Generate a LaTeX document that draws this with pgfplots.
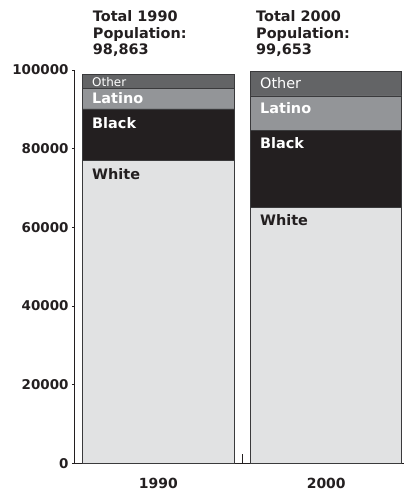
\documentclass[border=0pt]{standalone}
\usepackage{pgfplots}
\pgfplotsset{compat=1.18}
\usepackage{fontspec}
\setmainfont{DejaVu Sans}

\definecolor{cwhite}{HTML}{E1E2E3}
\definecolor{cblack}{HTML}{231F20}
\definecolor{clatino}{HTML}{939598}
\definecolor{cother}{HTML}{636466}
\definecolor{cline}{HTML}{3A3A3C}

\newcommand{\fs}[1]{\fontsize{#1}{#1}\selectfont}

\begin{document}
\begin{tikzpicture}[lbl/.style={anchor=base west, inner sep=0pt, font=\fs{14.5}\bfseries}]
    \begin{axis}[
        width=329bp, height=393.3bp, scale only axis,
        xmin=-0.496, xmax=1.463,
        ymin=0, ymax=100000,
        clip=false,
        ybar stacked, bar width=0.9,
        axis x line*=bottom, axis y line*=left,
        axis line style={-, draw=cblack, line width=1bp},
        ytick={0,20000,...,100000},
        scaled y ticks=false,
        yticklabel style={/pgf/number format/fixed, /pgf/number format/precision=0,
            /pgf/number format/1000 sep={}, /pgf/number format/assume math mode=true,
            font=\fs{13.5}\bfseries, text=cblack},
        xticklabel style={font=\fs{14}\bfseries, text=cblack, yshift=-8bp},
        tick align=outside, major tick length=3bp,
        tick style={draw=cblack, line width=0.8bp},
        xtick={0,1}, xticklabels={1990,2000},
        xtick style={draw=none},
        extra x ticks={0.5}, extra x tick labels={},
        extra x tick style={xtick style={draw=cblack, line width=0.8bp},
            tick align=inside, major tick length=9bp},
    ]
    % bottom to top: White, Black, Latino, Other
    \addplot[fill=cwhite, draw=cline, line width=0.7bp] coordinates {(0,76960) (1,65100)};
    \addplot[fill=cblack, draw=cline, line width=0.7bp] coordinates {(0,13140) (1,19500)};
    \addplot[fill=clatino, draw=cline, line width=0.7bp] coordinates {(0,5230) (1,8800)};
    \addplot[fill=cother, draw=cline, line width=0.7bp] coordinates {(0,3533) (1,6253)};

    % anchors for the labels (left edge of each bar, top of each segment)
    \coordinate (a1) at (axis cs:-0.45,98863);
    \coordinate (a2) at (axis cs:-0.45,95330);
    \coordinate (a3) at (axis cs:-0.45,90100);
    \coordinate (a4) at (axis cs:-0.45,76960);
    \coordinate (b1) at (axis cs:0.55,99653);
    \coordinate (b2) at (axis cs:0.55,93400);
    \coordinate (b3) at (axis cs:0.55,84600);
    \coordinate (b4) at (axis cs:0.55,65100);
    \coordinate (ta) at (axis cs:-0.45,100000);
    \coordinate (tb) at (axis cs:0.55,100000);
    \coordinate (sw) at (rel axis cs:0,0);
    \end{axis}

    % segment labels
    \node[lbl, font=\fs{12}, text=white, xshift=9.3bp, yshift=-12bp] at (a1) {Other};
    \node[lbl, text=white, xshift=9.3bp, yshift=-15.3bp] at (a2) {Latino};
    \node[lbl, text=white, xshift=9.3bp, yshift=-19.4bp] at (a3) {Black};
    \node[lbl, text=cblack, xshift=9.3bp, yshift=-19bp] at (a4) {White};

    \node[lbl, font=\fs{14.5}, text=white, xshift=9.3bp, yshift=-17.4bp] at (b1) {Other};
    \node[lbl, text=white, xshift=9.3bp, yshift=-17.7bp] at (b2) {Latino};
    \node[lbl, text=white, xshift=9.3bp, yshift=-18bp] at (b3) {Black};
    \node[lbl, text=cblack, xshift=9.3bp, yshift=-18.3bp] at (b4) {White};

    % totals above the bars
    \node[lbl, text=cblack, xshift=10bp, yshift=48.3bp] at (ta) {Total 1990};
    \node[lbl, text=cblack, xshift=10bp, yshift=31.7bp] at (ta) {Population:};
    \node[lbl, text=cblack, xshift=10bp, yshift=15bp] at (ta) {98,863};
    \node[lbl, text=cblack, xshift=5.3bp, yshift=48.3bp] at (tb) {Total 2000};
    \node[lbl, text=cblack, xshift=5.3bp, yshift=31.7bp] at (tb) {Population:};
    \node[lbl, text=cblack, xshift=5.3bp, yshift=15bp] at (tb) {99,653};

    \pgfresetboundingbox
    \path[use as bounding box] (sw) ++(-75bp,-29.7bp) rectangle ++(405bp,493bp);
\end{tikzpicture}
\end{document}
